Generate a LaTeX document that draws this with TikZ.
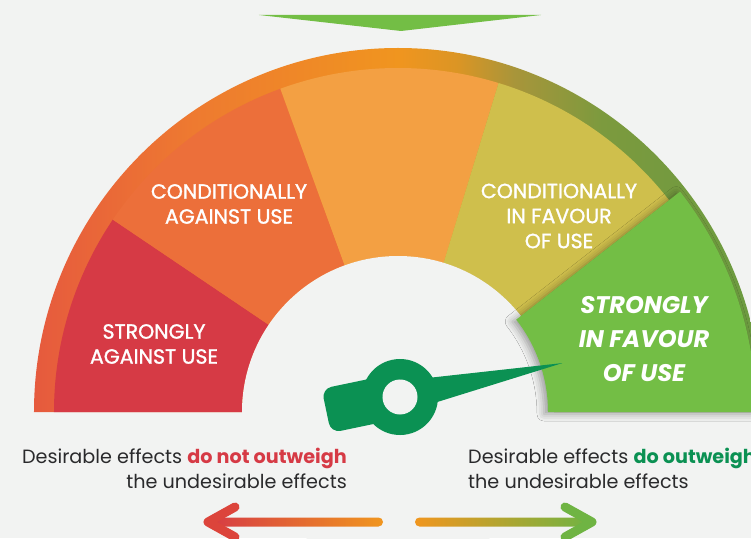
\documentclass[tikz,border=0pt]{standalone}
\usepackage{fontspec}
\setmainfont{Poppins}
\newfontfamily\labelfont{Poppins}[FakeBold=1.3]
\usetikzlibrary{shadows.blur}
\definecolor{mybg}{HTML}{F2F3F2}
\definecolor{myred}{HTML}{D63A45}
\definecolor{myorange}{HTML}{EC6F3A}
\definecolor{mylightorange}{HTML}{F3A043}
\definecolor{myyellow}{HTML}{CFBF4C}
\definecolor{mygreen}{HTML}{73BE45}
\definecolor{mydarkgreen}{HTML}{0B9153}
\definecolor{mytext}{HTML}{2A2A2C}
\definecolor{arrorange}{HTML}{F0961F}
\definecolor{arrgreen}{HTML}{6FB443}
\definecolor{ringA}{HTML}{E65A3E}
\definecolor{ringB}{HTML}{EE7A30}
\definecolor{ringC}{HTML}{F0951F}
\definecolor{ringD}{HTML}{DC9524}
\definecolor{ringE}{HTML}{A8953A}
\definecolor{ringF}{HTML}{7C9A3E}
\definecolor{ringG}{HTML}{6B9B40}
\pgfdeclarehorizontalshading{ringshade}{100bp}{color(0bp)=(ringA); color(25bp)=(ringA);
  color(36bp)=(ringB); color(50bp)=(ringC); color(54bp)=(ringD); color(58bp)=(ringE);
  color(64bp)=(ringF); color(75bp)=(ringG); color(100bp)=(ringG)}
\tikzset{
  gauge label/.style={text=white,align=center,inner sep=0,font=\labelfont\fontsize{20.5}{25}\selectfont},
  gauge strong/.style={text=white,align=center,inner sep=0,font=\fontsize{24}{34}\selectfont\bfseries\itshape},
  effect/.style={text=mytext,inner sep=0,font=\fontsize{19.2}{25}\selectfont},
  arrow head/.style={line width=9pt,line cap=round,line join=round},
  pop shadow/.style={blur shadow={shadow xshift=-4pt,shadow yshift=-2pt,shadow blur radius=7pt,shadow opacity=35}}
}
% one slice of the gauge: colour, start angle, end angle, outer radius, inner radius
\newcommand{\gaugeslice}[5]{\fill[#1] (#2:#4pt) arc[start angle=#2,end angle=#3,radius=#4pt]
                                -- (#3:#5pt) arc[start angle=#3,end angle=#2,radius=#5pt] -- cycle;}
\begin{document}
\begin{tikzpicture}[x=1pt,y=1pt]
   % Background
   \fill[mybg] (-398,-126) rectangle (353,412);
   \useasboundingbox (-398,-126) rectangle (353,412);
   % Top marker
   \fill[mygreen] (-139,397) -- (143,397) -- (3,381) -- cycle;
   % Outer ring
   \shade[shading=ringshade] (180:364pt) arc[start angle=180,end angle=0,radius=364pt] -- cycle;
   % Slices
   \gaugeslice{myred}{180}{146}{344}{156}
   \gaugeslice{myorange}{146}{110}{344}{156}
   \gaugeslice{mylightorange}{110}{73}{344}{156}
   \gaugeslice{myyellow}{73}{38}{344}{156}
   \fill[mybg] (0,0) circle[radius=156pt];
   % Highlighted slice
   \fill[mygreen,pop shadow] (0:358pt) arc[start angle=0,end angle=38,radius=358pt]
        -- (38:150pt) arc[start angle=38,end angle=0,radius=150pt] -- cycle;
   % Slice labels
   \node[gauge label] (sau) at (-244,68) {STRONGLY\\AGAINST USE};
   \node[gauge label] (cau) at (-169,208) {CONDITIONALLY\\AGAINST USE};
   \node[gauge label] (cif) at (161,196) {CONDITIONALLY\\IN FAVOUR\\OF USE};
   \node[gauge strong] (sif) at (246,73) {STRONGLY\\IN FAVOUR\\OF USE};
   % Needle
   \begin{scope}[shift={(2,15)},rotate=11.8]
      \fill[mydarkgreen,rounded corners=10pt] (-75,-21) rectangle (-10,24);
      \fill[mydarkgreen] (20,14) -- (166,0) -- (20,-14) -- cycle;
      \fill[mydarkgreen] (0,0) circle[radius=38pt];
      \fill[mybg] (0,0) circle[radius=17.5pt];
   \end{scope}
   % Effect texts
   \node[effect,anchor=base east] (noL1) at (-51,-51) {Desirable effects \textcolor{myred}{\bfseries do not outweigh}};
   \node[effect,anchor=base east] (noL2) at (-51,-76) {the undesirable effects};
   \node[effect,anchor=base west] (yesL1) at (70,-51) {Desirable effects \textcolor{mydarkgreen}{\bfseries do outweigh}};
   \node[effect,anchor=base west] (yesL2) at (70,-76) {the undesirable effects};
   % Bottom arrows
   \coordinate (ltip) at (-190,-110);
   \coordinate (lend) at (-15,-110);
   \coordinate (rstart) at (17,-110);
   \coordinate (rtip) at (194,-110);
   \shade[left color=myred,middle color=arrorange,right color=arrorange,rounded corners=4.5pt]
        ($(ltip)+(0,-4.5)$) rectangle ($(lend)+(0,4.5)$);
   \draw[arrow head,myred!85!orange] ($(ltip)+(27,15)$) -- (ltip) -- ($(ltip)+(27,-15)$);
   \shade[left color=arrorange,middle color=arrorange,right color=arrgreen,rounded corners=4.5pt]
        ($(rstart)+(0,-4.5)$) rectangle ($(rtip)+(0,4.5)$);
   \draw[arrow head,arrgreen] ($(rtip)+(-27,15)$) -- (rtip) -- ($(rtip)+(-27,-15)$);
\end{tikzpicture}
\end{document}
